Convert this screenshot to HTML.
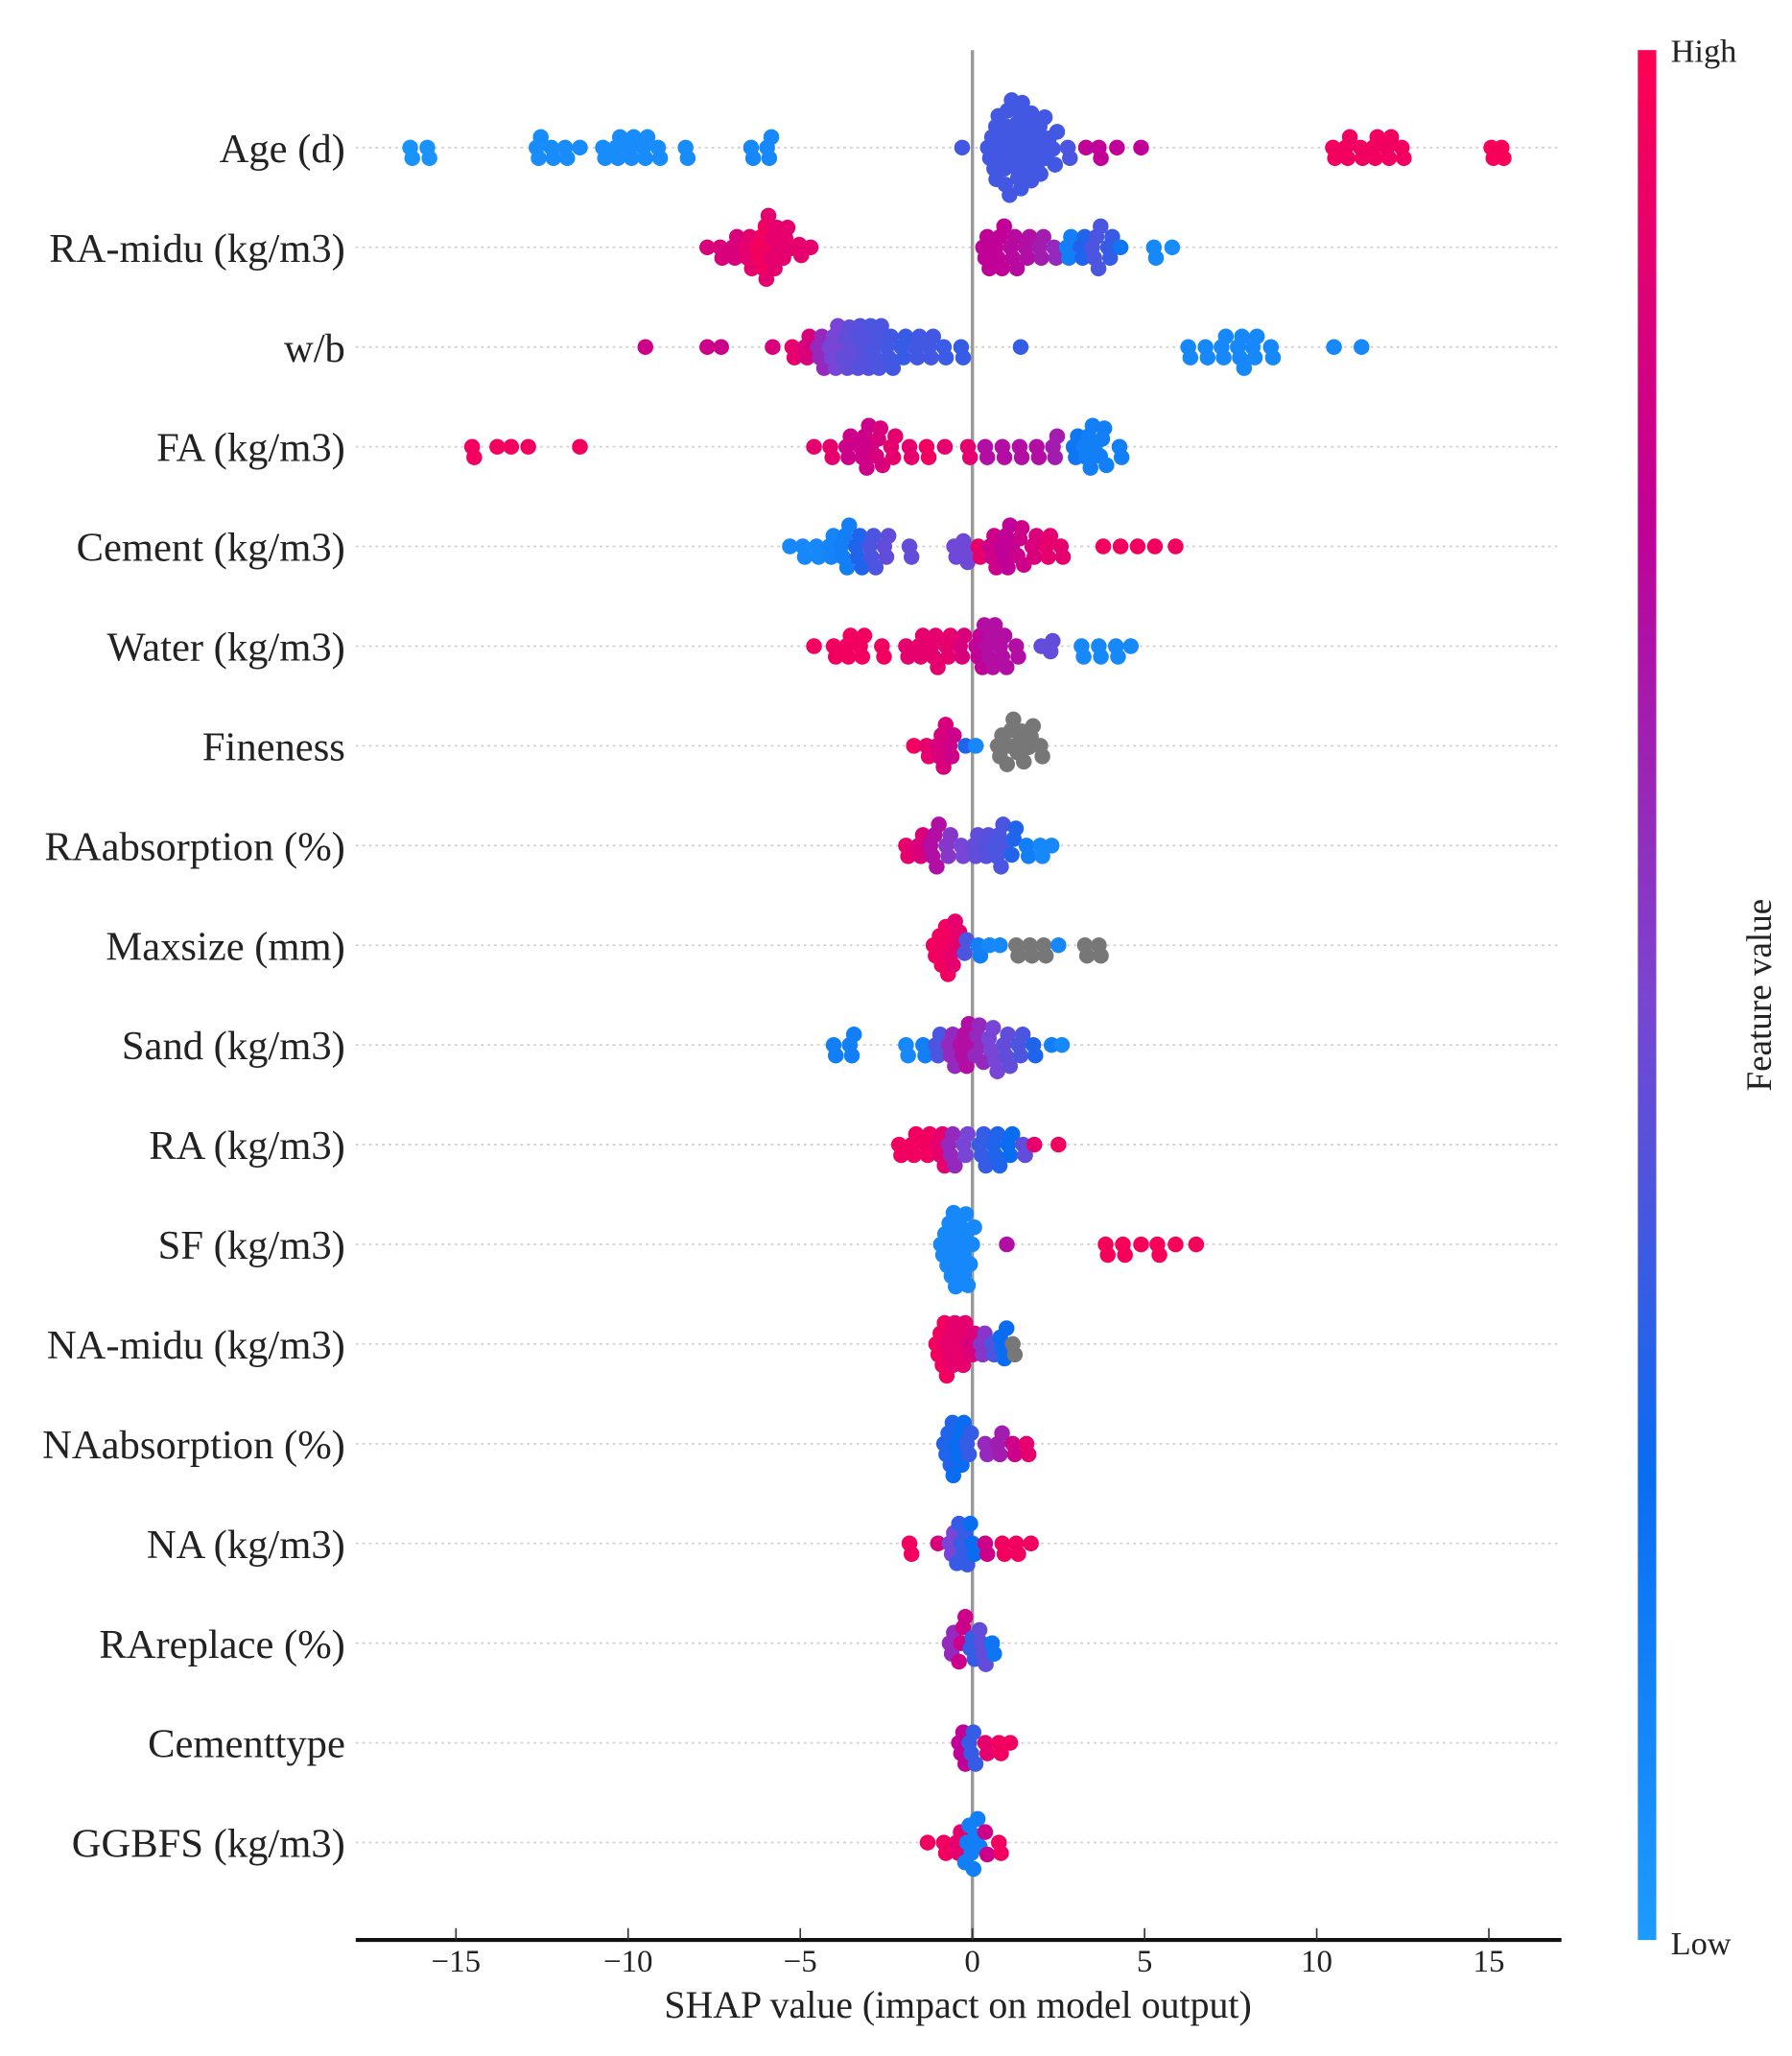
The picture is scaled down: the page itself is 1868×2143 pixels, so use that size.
<!DOCTYPE html>
<html><head><meta charset="utf-8"><style>
html,body{margin:0;padding:0;background:#fff;}
svg{display:block;}
text{font-family:"Liberation Serif",serif;fill:#222;}
</style></head><body>
<svg id="chart" width="1868" height="2143" viewBox="0 0 1360 1560" preserveAspectRatio="none" xmlns="http://www.w3.org/2000/svg">
<defs><linearGradient id="cb" x1="0" y1="1" x2="0" y2="0">
<stop offset="0" stop-color="#1e9bff"/><stop offset="0.25" stop-color="#0a6cf0"/><stop offset="0.5" stop-color="#7a45d0"/><stop offset="0.75" stop-color="#c00097"/><stop offset="1" stop-color="#ff0052"/></linearGradient></defs>
<g id="grid"></g>
<line x1="738" y1="38" x2="738" y2="1472" stroke="#999" stroke-width="2.5"/>
<g id="dots"></g>
<g id="labels"></g>
<line x1="270" y1="1472" x2="1185" y2="1472" stroke="#111" stroke-width="3"/>
<g id="xticks"></g>
<text x="727" y="1531" text-anchor="middle" font-size="29">SHAP value (impact on model output)</text>
<rect x="1243" y="38" width="14" height="1434" fill="url(#cb)"/>
<text x="1268" y="47" font-size="25">High</text>
<text x="1268" y="1483" font-size="25">Low</text>
<text x="0" y="0" font-size="27" text-anchor="middle" transform="translate(1344,755) rotate(-90)">Feature value</text>
</svg>
<script>
const features=["Age (d)","RA-midu (kg/m3)","w/b","FA (kg/m3)","Cement (kg/m3)","Water (kg/m3)","Fineness","RAabsorption (%)","Maxsize (mm)","Sand (kg/m3)","RA (kg/m3)","SF (kg/m3)","NA-midu (kg/m3)","NAabsorption (%)","NA (kg/m3)","RAreplace (%)","Cementtype","GGBFS (kg/m3)"];
const xTicks=[-15,-10,-5,0,5,10,15];
const xTickLabels=["\u221215","\u221210","\u22125","0","5","10","15"];
// entries: [shap value, count of points, feature value (0 low .. 1 high, null = missing)]
const ageData=[[-16.3,2,.05],[-15.8,2,.05],[-12.6,3,.08],[-12.2,2,.08],[-11.8,2,.08],[-11.4,1,.08],[-10.7,2,.08],[-10.3,3,.08],[-9.9,3,.08],[-9.5,3,.08],[-9.1,2,.08],[-8.3,2,.08],[-6.4,2,.1],[-5.9,3,.1],[-0.3,1,.38],[0.6,6,.38],[0.9,8,.38],[1.2,9,.38],[1.5,8,.38],[1.8,6,.38],[2.1,5,.38],[2.4,3,.38],[2.8,2,.4],[3.3,1,.75],[3.7,2,.75],[4.2,1,.75],[4.9,1,.75],[10.5,2,.95],[10.9,3,.95],[11.3,2,.95],[11.7,3,.95],[12.1,3,.95],[12.5,2,.95],[15.1,2,.97],[15.4,2,.97]];
const raMiduData=[[-7.7,1,.85],[-7.3,2,.85],[-6.9,3,.85],[-6.5,4,.9],[-6.1,6,.95],[-5.8,7,.9],[-5.4,4,.9],[-5.0,2,.9],[-4.7,1,.9],[0.4,4,.75],[0.8,5,.75],[1.2,4,.72],[1.6,3,.7],[2.0,3,.65],[2.4,2,.6],[2.8,3,.15],[3.2,3,.3],[3.6,5,.4],[4.0,3,.35],[4.3,1,.2],[5.3,2,.1],[5.8,1,.08]];
const wbData=[[-9.5,1,.8],[-7.7,1,.8],[-7.3,1,.8],[-5.8,1,.85],[-5.2,2,.9],[-4.8,3,.85],[-4.4,4,.6],[-4.0,6,.5],[-3.6,6,.45],[-3.2,7,.42],[-2.8,6,.4],[-2.4,4,.38],[-2.0,3,.35],[-1.6,3,.38],[-1.2,3,.38],[-0.8,2,.36],[-0.3,2,.35],[1.4,1,.35],[6.3,2,.1],[6.8,2,.1],[7.3,3,.1],[7.8,4,.1],[8.2,3,.1],[8.7,2,.1],[10.5,1,.1],[11.3,1,.1]];
const faData=[[-14.5,2,.95],[-13.8,1,.95],[-13.4,1,.95],[-12.9,1,.95],[-11.4,1,.95],[-4.6,1,.9],[-4.1,2,.9],[-3.6,3,.8],[-3.1,6,.8],[-2.7,4,.85],[-2.3,3,.9],[-1.8,2,.9],[-1.3,2,.95],[-0.8,1,.9],[-0.1,2,.9],[0.4,2,.7],[0.9,2,.7],[1.4,2,.7],[1.9,2,.7],[2.4,3,.65],[3.0,3,.2],[3.4,6,.15],[3.8,4,.15],[4.3,2,.15]];
const cementData=[[-5.3,1,.1],[-4.9,2,.1],[-4.5,2,.1],[-4.1,3,.12],[-3.7,5,.15],[-3.3,4,.3],[-2.9,4,.4],[-2.5,3,.45],[-1.8,2,.45],[-0.5,2,.48],[-0.2,3,.48],[0.2,2,.9],[0.6,4,.8],[1.0,6,.75],[1.4,4,.8],[1.8,3,.85],[2.2,3,.9],[2.6,2,.9],[3.8,1,.95],[4.3,1,.95],[4.8,1,.95],[5.3,1,.95],[5.9,1,.95]];
const waterData=[[-4.6,1,.95],[-4.0,2,.95],[-3.6,3,.95],[-3.2,3,.95],[-2.6,2,.95],[-1.9,2,.9],[-1.5,3,.9],[-1.1,4,.9],[-0.7,3,.9],[-0.3,3,.85],[0.2,4,.75],[0.5,6,.7],[0.9,4,.7],[1.3,2,.7],[2.0,1,.45],[2.3,2,.45],[3.2,2,.1],[3.7,2,.1],[4.2,2,.1],[4.6,1,.1]];
const finenessData=[[-1.7,1,.95],[-1.3,2,.9],[-0.9,5,.85],[-0.6,3,.8],[-0.2,1,.3],[0.1,1,.1],[0.8,3,null],[1.1,4,null],[1.4,4,null],[1.7,3,null],[2.0,2,null]];
const raAbsData=[[-1.9,2,.9],[-1.5,3,.85],[-1.1,5,.7],[-0.7,3,.55],[-0.3,2,.5],[0.1,3,.45],[0.4,3,.42],[0.8,6,.4],[1.2,3,.3],[1.6,2,.15],[2.0,2,.1],[2.3,1,.1]];
const maxsizeData=[[-1.1,2,.95],[-0.8,6,.95],[-0.5,5,.9],[-0.2,2,.4],[0.2,2,.15],[0.5,1,.1],[0.8,1,.1],[1.3,2,null],[1.7,2,null],[2.1,2,null],[2.5,1,.1],[3.3,2,null],[3.7,2,null]];
const sandData=[[-4.0,2,.15],[-3.5,3,.15],[-1.9,2,.1],[-1.4,2,.15],[-1.0,3,.4],[-0.6,4,.6],[-0.2,6,.7],[0.2,5,.6],[0.6,5,.5],[1.0,4,.45],[1.4,3,.4],[1.8,2,.3],[2.3,1,.15],[2.6,1,.1]];
const raData=[[-2.1,2,.95],[-1.7,3,.95],[-1.3,3,.95],[-0.9,4,.9],[-0.6,4,.6],[-0.2,3,.5],[0.3,4,.35],[0.7,4,.3],[1.1,3,.25],[1.5,2,.45],[1.8,1,.9],[2.5,1,.95]];
const sfData=[[-0.7,8,.1],[-0.4,8,.1],[-0.1,6,.1],[1.0,1,.7],[3.9,2,.97],[4.4,2,.97],[4.9,1,.97],[5.4,2,.97],[5.9,1,.97],[6.5,1,.97]];
const naMiduData=[[-0.9,6,.95],[-0.6,6,.9],[-0.3,4,.9],[0,3,.85],[0.3,3,.55],[0.6,2,.4],[0.9,4,.25],[1.2,2,null]];
const naAbsData=[[-0.7,5,.3],[-0.4,6,.25],[-0.1,3,.35],[0.4,2,.6],[0.8,3,.65],[1.2,2,.8],[1.6,2,.9]];
const naData=[[-1.8,2,.95],[-1.0,1,.85],[-0.6,3,.5],[-0.3,6,.35],[0.0,3,.25],[0.4,2,.8],[0.9,2,.95],[1.3,2,.95],[1.7,1,.95]];
const raReplaceData=[[-0.6,3,.6],[-0.3,4,.8],[0.0,3,.35],[0.3,4,.45],[0.6,2,.2]];
const cementTypeData=[[-0.3,4,.75],[0,4,.35],[0.4,2,.9],[0.8,2,.95],[1.1,1,.95]];
const ggbfsData=[[-1.3,1,.95],[-0.8,2,.95],[-0.4,3,.9],[0,8,.15],[0.4,2,.8],[0.8,2,.95]];
const allData=[ageData,raMiduData,wbData,faData,cementData,waterData,finenessData,raAbsData,maxsizeData,sandData,raData,sfData,naMiduData,naAbsData,naData,raReplaceData,cementTypeData,ggbfsData];

const NS="http://www.w3.org/2000/svg";
const x0=738,pxPerUnit=26.13,row0=112,rowStep=75.65,R=6;
function xScale(v){return x0+v*pxPerUnit;}
function yRow(i){return row0+i*rowStep;}
const stops=[[0,[30,155,255]],[0.25,[10,108,240]],[0.5,[120,69,214]],[0.75,[192,0,151]],[1,[255,0,82]]];
function color(f){
  if(f===null)return "#777";
  for(let i=1;i<stops.length;i++){if(f<=stops[i][0]){const a=stops[i-1],b=stops[i];const t=(f-a[0])/(b[0]-a[0]);
    const c=a[1].map((v,k)=>Math.round(v+(b[1][k]-v)*t));return "rgb("+c.join(",")+")";}}
  return "rgb(255,0,82)";
}
const grid=document.getElementById('grid'),dots=document.getElementById('dots'),labels=document.getElementById('labels'),xt=document.getElementById('xticks');
features.forEach((name,i)=>{
  const y=yRow(i);
  const g=document.createElementNS(NS,'line');
  
  
  g.setAttribute('x1',270);g.setAttribute('x2',1185);g.setAttribute('y1',y);g.setAttribute('y2',y);
  g.setAttribute('stroke','#d0d0d0');g.setAttribute('stroke-width','1.3');g.setAttribute('stroke-dasharray','2 3');
  grid.appendChild(g);
  const t=document.createElementNS(NS,'text');
  
  
  t.setAttribute('x',262);t.setAttribute('y',y+11);t.setAttribute('text-anchor','end');t.setAttribute('font-size','31');
  t.textContent=name;labels.appendChild(t);
  const pts=[];
  allData[i].forEach(e=>{const n=e[1];for(let k=0;k<n;k++){const sp=(k-(n-1)/2)*1.6;pts.push({x:xScale(e[0])+sp,f:e[2]});}});
  pts.sort((a,b)=>a.x-b.x);
  const placed=[];const D=R*1.3;
  pts.forEach(p=>{
    let off=0;
    for(let s=0;s<400;s++){
      const cand=(s%2?1:-1)*Math.ceil(s/2)*1;
      let ok=true;
      for(const q of placed){const dx=q.x-p.x;if(Math.abs(dx)<D){const dy=q.o-cand;if(dx*dx+dy*dy<D*D){ok=false;break;}}}
      if(ok){off=cand;break;}
    }
    p.o=off;placed.push(p);
  });
  placed.forEach(p=>{
    const c=document.createElementNS(NS,'circle');
    
    
    c.setAttribute('cx',p.x.toFixed(1));c.setAttribute('cy',(y+p.o).toFixed(1));c.setAttribute('r',R);
    c.setAttribute('fill',color(p.f));
    dots.appendChild(c);
  });
});
xTicks.forEach((v,i)=>{
  const x=xScale(v);
  const l=document.createElementNS(NS,'line');
  
  
  l.setAttribute('x1',x);l.setAttribute('x2',x);l.setAttribute('y1',1463);l.setAttribute('y2',1472);
  l.setAttribute('stroke','#333');l.setAttribute('stroke-width','1.2');xt.appendChild(l);
  const t=document.createElementNS(NS,'text');
  
  
  t.setAttribute('x',x);t.setAttribute('y',1496);t.setAttribute('text-anchor','middle');t.setAttribute('font-size','24');
  t.textContent=xTickLabels[i];xt.appendChild(t);
});
</script>
</body></html>
